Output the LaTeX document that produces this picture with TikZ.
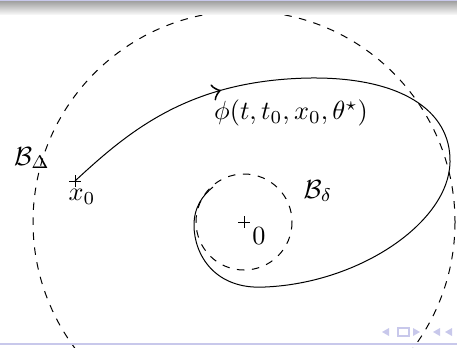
\documentclass[tikz,border=0pt]{standalone}
\usetikzlibrary{decorations.markings,calc}
\definecolor{navblue}{RGB}{200,200,235}
\tikzset{
  boule/.style={dashed, thin},
  traj/.style={thin, postaction={decorate}, decoration={markings, mark=at position 0.207 with {\arrow[scale=1.9]{>}}}},
  croix/.style={thin},
  lbl/.style={scale=1.05}
}
\begin{document}
\begin{tikzpicture}[x=0.4pt, y=-0.4pt]
	\useasboundingbox (0,0) rectangle (457,347);
	\coordinate (O) at (244,222);
	\coordinate (X) at (75,181);
	% boules
	\draw[boule] (O) circle (211);
	\draw[boule] (O) circle (48);
	% trajectoire
	\draw[traj] (X) .. controls (130,130) and (190,80) .. (310,78)
		.. controls (400,77) and (451,110) .. (450,162)
		.. controls (449,222) and (360,283) .. (265,287)
		.. controls (215,290) and (194,255) .. (194,225)
		.. controls (194,207) and (203,195) .. (213,187);
	% croix
	\draw[croix] ($(X)+(-6,0)$) -- ($(X)+(6,0)$) ($(X)+(0,-6)$) -- ($(X)+(0,6)$);
	\draw[croix] ($(O)+(-6,0)$) -- ($(O)+(6,0)$) ($(O)+(0,-6)$) -- ($(O)+(0,6)$);
	\node[lbl] (x0) at (82,197) {$x_0$};
	\node[lbl] (zero) at (259,236) {$0$};
	\node[lbl] (phi) at (291,113) {$\phi(t,t_0,x_0,\theta^\star)$};
	\node[lbl] (BD) at (32,158) {$\mathcal{B}_\Delta$};
	\node[lbl] (Bd) at (318,191) {$\mathcal{B}_\delta$};
	% cadre beamer
	\shade[top color=gray!80, bottom color=gray!8] (0,0) rectangle (457,14);
	\draw[navblue, line width=0.6pt] (0,0.5) -- (457,0.5);
	\draw[navblue, line width=0.8pt] (0,343.5) -- (457,343.5);
	\fill[navblue] (382,332) -- (389,328) -- (389,336) -- cycle;
	\draw[navblue, line width=0.8pt] (398,328) rectangle (409,336);
	\fill[navblue] (420,332) -- (413,328) -- (413,336) -- cycle;
	\fill[navblue] (433,332) -- (440,328) -- (440,336) -- cycle;
	\fill[navblue] (445,332) -- (452,328) -- (452,336) -- cycle;
\end{tikzpicture}
\end{document}
